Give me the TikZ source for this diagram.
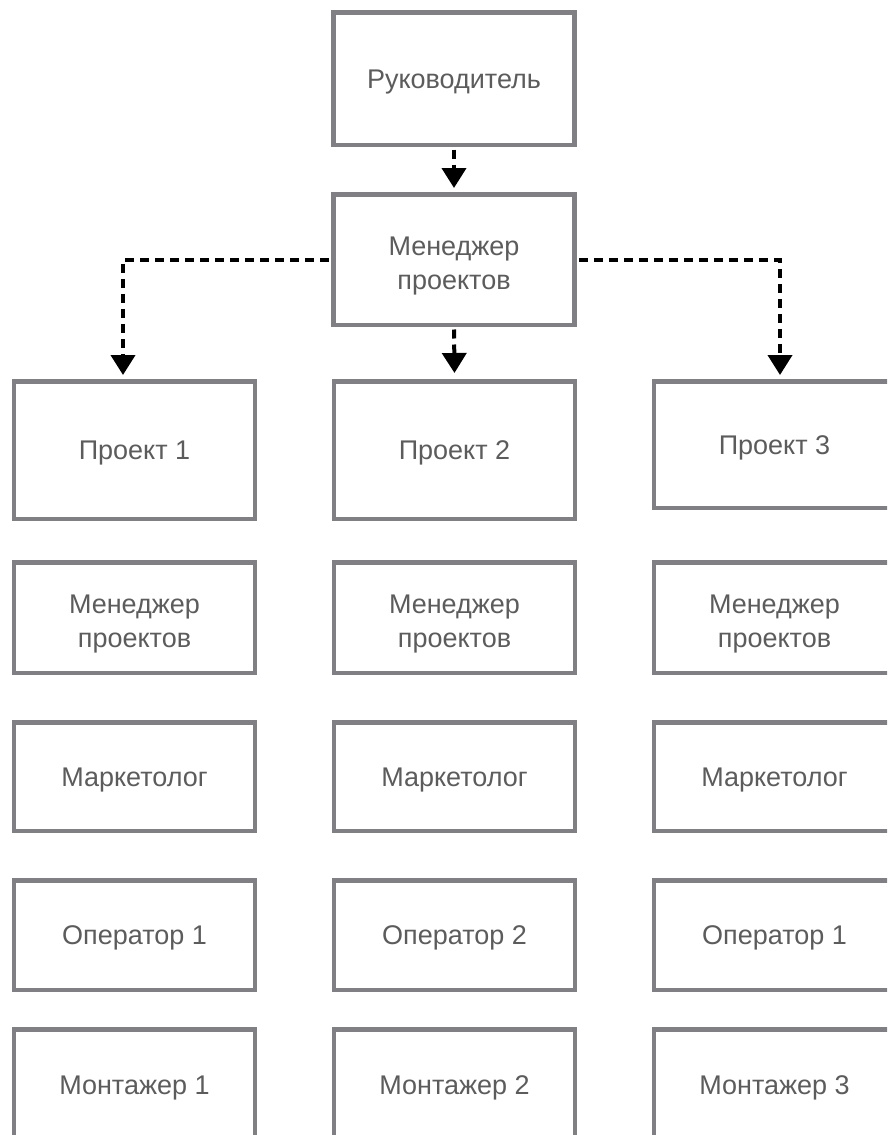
\documentclass[tikz,border=0pt]{standalone}
\usepackage{fontspec}
\setmainfont{Liberation Sans}
\usetikzlibrary{arrows.meta}
\definecolor{boxgray}{RGB}{128,128,132}
\definecolor{txtgray}{RGB}{92,92,92}
\begin{document}
\begin{tikzpicture}[x=1pt,y=-1pt,
  box/.style={draw=boxgray, line width=4.5pt, fill=white, inner sep=0pt,
    align=center, text=txtgray, minimum width=241pt,
    font=\fontsize{27}{34}\selectfont, text height=19.3pt, text depth=0pt},
  twoline/.style={text height=60.3pt, text depth=0pt},
  link/.style={draw=black, line width=4pt, dash pattern=on 9pt off 6pt,
    shorten <=2.5pt, -{Triangle[width=24pt,length=20pt]}}]
\useasboundingbox (0,0) rectangle (887,1135);
\clip (0,0) rectangle (887,1135);
\fill[white] (0,0) rectangle (887,1135);

% head and central manager
\node[box, minimum height=132.5pt] (head) at (454,78.5) {Руководитель};
\node[box, twoline, minimum height=130.5pt] (mgr) at (454,259.5) {Менеджер\\проектов};

% project columns
\node[box, minimum height=137.5pt] (p1) at (134.5,450) {Проект 1};
\node[box, minimum height=137.5pt] (p2) at (454.5,450) {Проект 2};
\node[box, minimum height=126.5pt] (p3) at (774.5,444.5) {Проект 3};

\node[box, twoline, minimum height=110.5pt] (m1) at (134.5,617.5) {Менеджер\\проектов};
\node[box, twoline, minimum height=110.5pt] (m2) at (454.5,617.5) {Менеджер\\проектов};
\node[box, twoline, minimum height=110.5pt] (m3) at (774.5,617.5) {Менеджер\\проектов};

\node[box, minimum height=108.5pt] (k1) at (134.5,776.5) {Маркетолог};
\node[box, minimum height=108.5pt] (k2) at (454.5,776.5) {Маркетолог};
\node[box, minimum height=108.5pt] (k3) at (774.5,776.5) {Маркетолог};

\node[box, minimum height=109.5pt] (o1) at (134.5,935) {Оператор 1};
\node[box, minimum height=109.5pt] (o2) at (454.5,935) {Оператор 2};
\node[box, minimum height=109.5pt] (o3) at (774.5,935) {Оператор 1};

\node[box, minimum height=111.5pt] (e1) at (134.5,1085) {Монтажер 1};
\node[box, minimum height=111.5pt] (e2) at (454.5,1085) {Монтажер 2};
\node[box, minimum height=111.5pt] (e3) at (774.5,1085) {Монтажер 3};

% dashed connectors
\coordinate (t1) at (123,375);
\coordinate (t3) at (780,375);
\draw[link] (head.south) -- ([yshift=4pt]mgr.north);
\draw[link] (mgr.west) -| (t1);
\draw[link] (mgr.east) -| (t3);
\draw[link] (mgr.south) -- ([yshift=6pt]p2.north);
\end{tikzpicture}
\end{document}
